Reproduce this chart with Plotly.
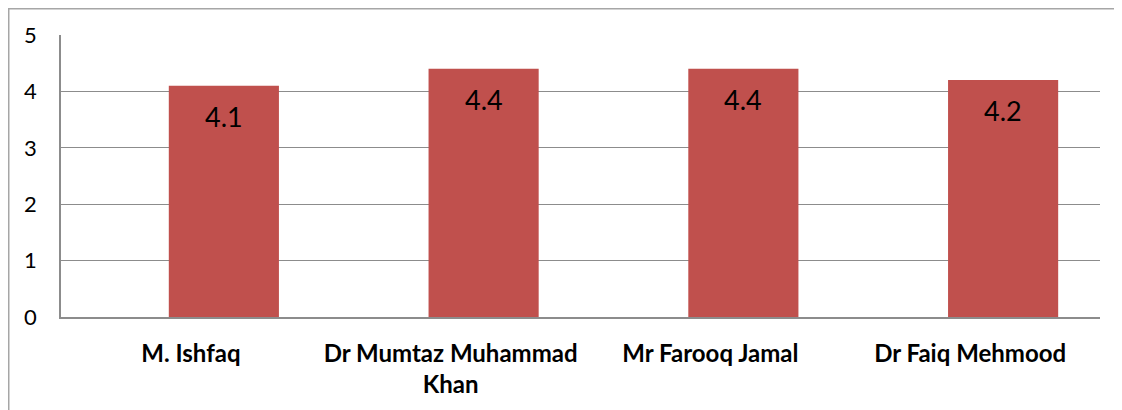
import plotly.graph_objects as go

categories = ["M. Ishfaq", "Dr Mumtaz Muhammad<br>Khan", "Mr Farooq Jamal", "Dr Faiq Mehmood"]
values = [4.1, 4.4, 4.4, 4.2]
value_labels = ["4.1", "4.4", "4.4", "4.2"]
y_ticks = [0, 1, 2, 3, 4, 5]

BAR = "#C0504D"
GRID = "#8c8c8c"
FONT = "Lato, Calibri, 'Open Sans', sans-serif"

BAR_WIDTH = 0.424
BAR_OFFSET = -0.085  # bars sit right of the category centre, as in the original

xs = list(range(len(categories)))

fig = go.Figure()
fig.add_trace(go.Bar(
    x=xs,
    y=values,
    width=BAR_WIDTH,
    offset=BAR_OFFSET,
    marker=dict(color=BAR, line=dict(width=0)),
    hoverinfo="skip",
))

for i, v, t in zip(xs, values, value_labels):
    fig.add_annotation(x=i + BAR_OFFSET + BAR_WIDTH / 2, y=v, text=t, showarrow=False,
                       xref="x", yref="y", yanchor="top", yshift=-12,
                       font=dict(family=FONT, size=27, color="#000000"))

fig.update_layout(
    width=1114, height=402,
    margin=dict(l=53, r=22, t=27, b=93),
    paper_bgcolor="white", plot_bgcolor="white",
    showlegend=False,
    font=dict(family=FONT, color="#000000"),
    xaxis=dict(
        tickmode="array", tickvals=xs, ticktext=categories,
        range=[-0.5, len(categories) - 0.5],
        showgrid=False, zeroline=False,
        showline=True, linecolor=GRID, linewidth=1.5,
        ticks="", ticklabelstandoff=14,
        tickfont=dict(family=FONT, size=24, color="#000000", weight="bold"),
        tickangle=0,
    ),
    yaxis=dict(
        range=[0, 5], tickvals=y_ticks,
        showgrid=True, gridcolor=GRID, gridwidth=1.2,
        zeroline=False,
        showline=True, linecolor=GRID, linewidth=1.5,
        ticks="", ticklabelstandoff=18,
        tickfont=dict(family=FONT, size=22, color="#000000"),
    ),
    shapes=[dict(type="rect", xref="paper", yref="paper",
                 x0=-0.0503, x1=1.2, y0=-0.5, y1=1.093,
                 line=dict(color="#a6a6a6", width=1.5), fillcolor="rgba(0,0,0,0)", layer="below")],
)

fig.write_html("out.html")
